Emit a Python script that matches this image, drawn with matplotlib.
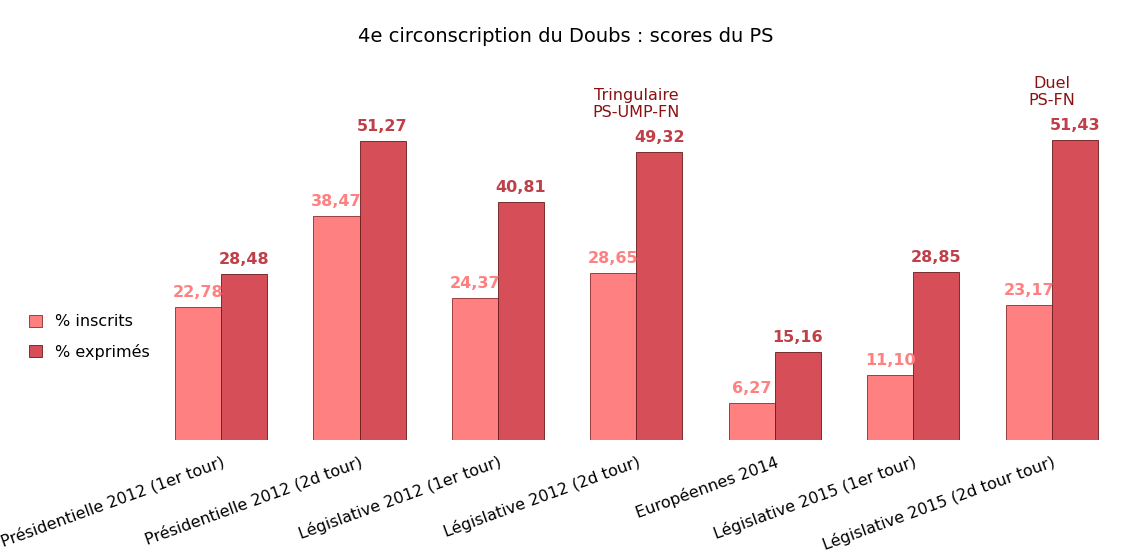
import matplotlib.pyplot as plt
import numpy as np

categories = ["Présidentielle 2012 (1er tour)", "Présidentielle 2012 (2d tour)",
              "Législative 2012 (1er tour)", "Législative 2012 (2d tour)",
              "Européennes 2014", "Législative 2015 (1er tour)",
              "Législative 2015 (2d tour tour)"]
inscrits = [22.78, 38.47, 24.37, 28.65, 6.27, 11.10, 23.17]
exprimes = [28.48, 51.27, 40.81, 49.32, 15.16, 28.85, 51.43]
notes = {3: "Tringulaire\nPS-UMP-FN", 6: "Duel\nPS-FN"}

light = "#FF8080"
dark = "#D64F58"

fig = plt.figure(figsize=(11.31, 5.57), dpi=100)
ax = fig.add_axes([138 / 1131, 117 / 557, 976 / 1131, 350 / 557])
x = np.arange(len(categories))
w = 0.333

ax.bar(x - w / 2, inscrits, w, color=light, edgecolor="#8a2a2a", linewidth=0.6, label="% inscrits")
ax.bar(x + w / 2, exprimes, w, color=dark, edgecolor="#6a1a1a", linewidth=0.6, label="% exprimés")

def fmt(v):
    return f"{v:.2f}".replace(".", ",")

for i in x:
    ax.text(i - w / 2, inscrits[i] + 1.2, fmt(inscrits[i]), ha="center", va="bottom",
            color=light, fontsize=11.5, fontweight="bold")
    ax.text(i + w / 2, exprimes[i] + 1.2, fmt(exprimes[i]), ha="center", va="bottom",
            color="#C0404A", fontsize=11.5, fontweight="bold")
for i, t in notes.items():
    ax.text(i, exprimes[i] + 5.5, t, ha="center", va="bottom", color="#8B1010", fontsize=11.5)

ax.set_xlim(-0.6, 6.45)
ax.set_ylim(0, 60)
ax.set_yticks([])
ax.set_xticks(x)
ax.set_xticklabels(categories, rotation=20, ha="right", rotation_mode="anchor", fontsize=11.5)
ax.tick_params(axis="x", length=0, pad=10)
for s in ax.spines.values():
    s.set_visible(False)

fig.text(0.5, 0.925, "4e circonscription du Doubs : scores du PS", ha="center", fontsize=14)
fig.legend(loc="upper left", bbox_to_anchor=(15 / 1131, 1 - 300 / 557), frameon=False,
           fontsize=11.5, handlelength=0.8, handleheight=0.8, labelspacing=0.9)

fig.savefig("out.png", dpi=100)
